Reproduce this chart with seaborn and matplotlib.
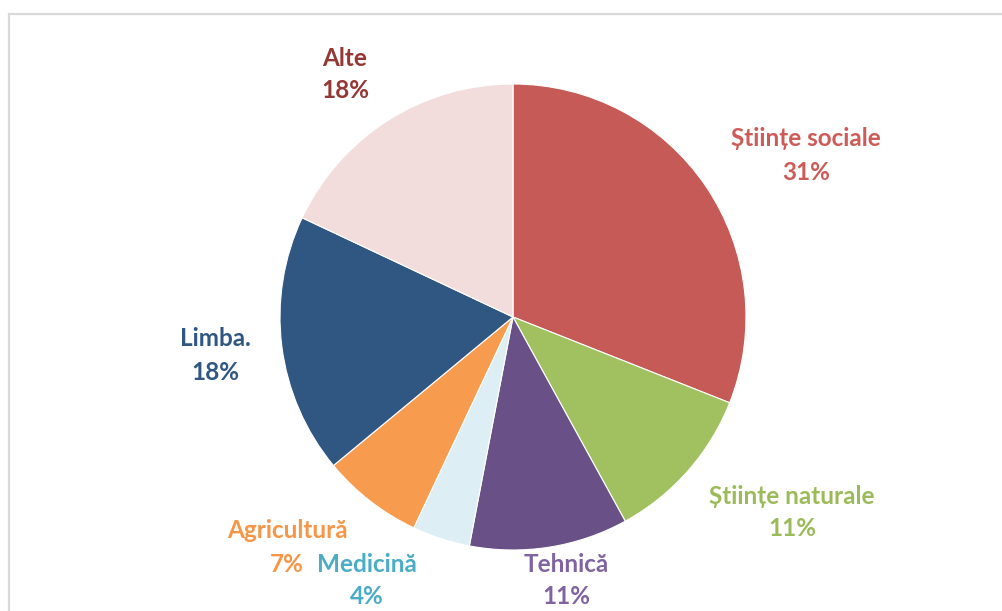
import matplotlib
matplotlib.use("Agg")
import matplotlib.pyplot as plt
import seaborn as sns
from matplotlib.patches import Rectangle

# Data
categories = ["Științe sociale", "Științe naturale", "Tehnică", "Medicină",
              "Agricultură", "Limba.", "Alte"]
values = [31, 11, 11, 4, 7, 18, 18]
slice_colors = ["#C65A57", "#A1C161", "#695086", "#DDEFF4",
                "#F79C4F", "#2F5781", "#F3DDDC"]
text_colors = ["#CD5C59", "#9BBB59", "#8064A2", "#4BACC6",
               "#F79646", "#2F5781", "#953735"]
# label layout (centre of the name line, pixel coordinates of the image)
label_px = [(806, 139), (792, 496), (566, 564), (367, 564),
            (287, 531), (215, 339), (345, 58)]
line_gap = 33  # pixels between name line and percent line

sns.set_theme(style="white")
plt.rcParams['font.family'] = ['Lato', 'DejaVu Sans']

W, H = 1002, 611
fig = plt.figure(figsize=(W / 100, H / 100), dpi=100)
fig.patch.set_facecolor("white")

# frame of the chart area
fig.add_artist(Rectangle((9 / W, -0.1), 1.2, (H - 14) / H + 0.1,
                         transform=fig.transFigure, fill=False,
                         edgecolor="#D9D9D9", linewidth=1.6))

cx, cy, r = 513, 317, 233
ax = fig.add_axes([(cx - r) / W, (H - cy - r) / H, 2 * r / W, 2 * r / H])
pal = sns.color_palette(slice_colors)
ax.pie(values, colors=pal, startangle=90, counterclock=False, radius=1,
       wedgeprops=dict(edgecolor="white", linewidth=0.8))
ax.set_xlim(-1, 1)
ax.set_ylim(-1, 1)
ax.set_aspect("equal")
ax.axis("off")

for cat, v, col, (px, py) in zip(categories, values, text_colors, label_px):
    fig.text(px / W, 1 - py / H, cat, color=col, ha="center",
             va="center", fontsize=17.5, fontweight="bold")
    fig.text(px / W, 1 - (py + line_gap) / H, f"{v}%", color=col,
             ha="center", va="center", fontsize=17.5, fontweight="bold")

fig.savefig("out.png", dpi=100, facecolor="white")
